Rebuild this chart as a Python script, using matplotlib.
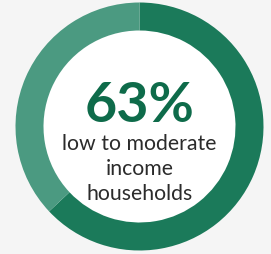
import matplotlib.pyplot as plt

# share of households
labels = ["low to moderate income", "other"]
shares = [63, 37]
colors = ["#1b7a5a", "#4b9a81"]
big_text = "63%"
sub_text = "low to moderate\nincome\nhouseholds"

W, H = 271, 255
fig = plt.figure(figsize=(W / 100, H / 100), dpi=100)
fig.patch.set_facecolor("#f5f5f5")
ax = fig.add_axes([0, 0, 1, 1])
ax.set_facecolor("#f5f5f5")

cx, cy = 139.5, 127.5
ax.pie(shares, colors=colors, startangle=90, counterclock=False,
       radius=124, center=(cx, cy),
       wedgeprops=dict(width=28, edgecolor="none", linewidth=0))
ax.add_patch(plt.Circle((cx, cy), 96, color="white", zorder=0))

ax.text(cx + 0.5, H - 106, big_text, ha="center", va="center",
        fontsize=40, fontweight="bold", family="Lato", color="#0e6b4a")
ax.text(cx, H - 169, sub_text, ha="center", va="center",
        fontsize=15.3, family="Lato", color="#2b2b2b", linespacing=1.3)

ax.set_xlim(0, W)
ax.set_ylim(0, H)
ax.set_aspect("equal")
ax.axis("off")
fig.savefig("out.png", dpi=100, facecolor=fig.get_facecolor())
